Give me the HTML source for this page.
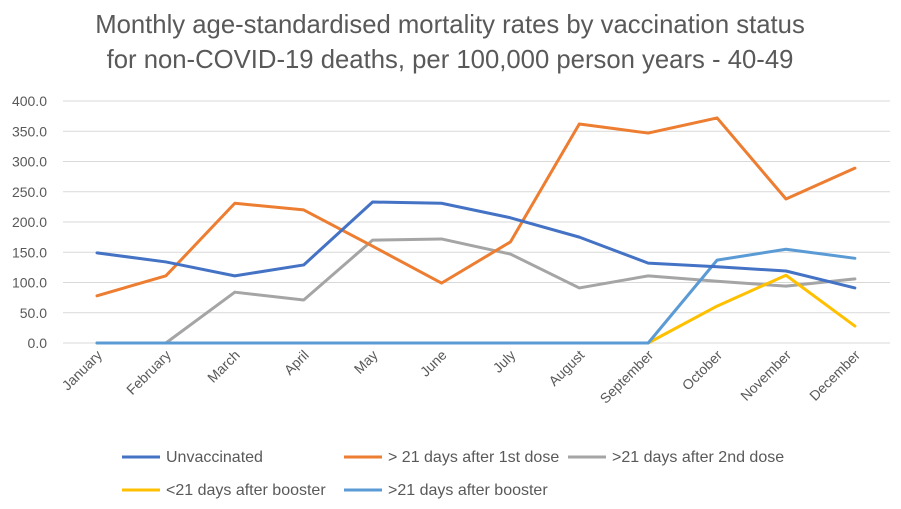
<!DOCTYPE html>
<html><head><meta charset="utf-8"><style>
body{margin:0;background:#fff;font-family:"Liberation Sans",Arial,sans-serif}
svg{display:block}
</style></head><body>
<svg id="chart" width="901" height="509" viewBox="0 0 901 509">
<text x="450" y="33" text-anchor="middle" font-size="25.7" fill="#595959">Monthly age-standardised mortality rates by vaccination status</text>
<text x="450" y="68" text-anchor="middle" font-size="25.7" fill="#595959">for non-COVID-19 deaths, per 100,000 person years - 40-49</text>
<g id="grid"></g><g id="yticks"></g><g id="xticks"></g><g id="series"></g><g id="legend"></g>
</svg>
<script>
const categories=["January","February","March","April","May","June","July","August","September","October","November","December"];
const unvaccinated=[149,134,111,129,233,231,207,175,132,126,119,91];
const firstDose=[78,111,231,220,160,99,167,362,347,372,238,289];
const secondDose=[0,0,84,71,170,172,147,91,111,102,94,106];
const boosterUnder21=[0,0,0,0,0,0,0,0,0,61,112,28];
const boosterOver21=[0,0,0,0,0,0,0,0,0,137,155,140];
const yTicks=[0,50,100,150,200,250,300,350,400];
const seriesNames=["Unvaccinated","> 21 days after 1st dose",">21 days after 2nd dose","<21 days after booster",">21 days after booster"];
const NS="http://www.w3.org/2000/svg";
const y=v=>343-v*(242/400);
const x=i=>97+i*68.9;
function mk(tag,attrs,parent){const e=document.createElementNS(NS,tag);for(const k in attrs)e.setAttribute(k,attrs[k]);parent.appendChild(e);return e;}
const grid=document.getElementById('grid'),yt=document.getElementById('yticks'),xt=document.getElementById('xticks'),sg=document.getElementById('series'),lg=document.getElementById('legend');
yTicks.forEach(t=>{
 const l=mk('line',{x1:63,x2:890,y1:y(t),y2:y(t),stroke:'#d9d9d9','stroke-width':1},grid);
 
 
 const tx=mk('text',{x:47,y:y(t)+5,'text-anchor':'end','font-size':14,fill:'#595959'},yt);
 tx.textContent=t.toFixed(1);
 
 
});
categories.forEach((c,i)=>{
 const tx=mk('text',{x:x(i)+6,y:356,'text-anchor':'end','font-size':14,fill:'#595959',transform:`rotate(-45 ${x(i)+6} 356)`},xt);
 tx.textContent=c;
 
 
});
const colors=["#4472C4","#ED7D31","#A5A5A5","#FFC000","#5B9BD5"];
const data=[unvaccinated,firstDose,secondDose,boosterUnder21,boosterOver21];
const order=[2,3,4,1,0];
order.forEach(s=>{
 const p=mk('polyline',{points:data[s].map((v,i)=>x(i)+','+y(v)).join(' '),fill:'none',stroke:colors[s],'stroke-width':3,'stroke-linejoin':'round','stroke-linecap':'round'},sg);
 
 
});
const legPos=[[122,457],[344,457],[568,457],[122,490],[344,490]];
seriesNames.forEach((n,s)=>{
 const [lx,ly]=legPos[s];
 const g=mk('g',{},lg);
 
 
 mk('line',{x1:lx,x2:lx+38,y1:ly,y2:ly,stroke:colors[s],'stroke-width':3},g);
 const t=mk('text',{x:lx+44,y:ly+5,'font-size':16,fill:'#595959'},g);
 t.textContent=n;
});
</script>
</body></html>
